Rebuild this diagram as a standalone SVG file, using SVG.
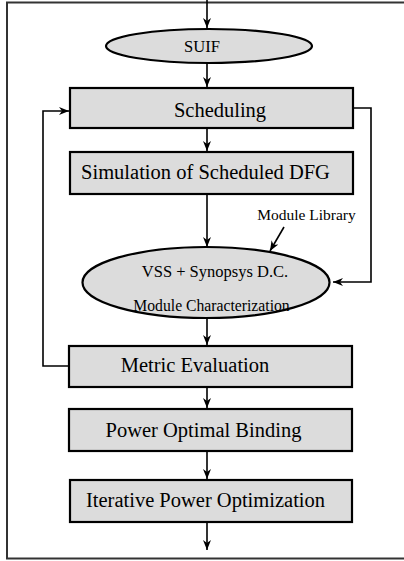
<svg xmlns="http://www.w3.org/2000/svg" width="404" height="561" viewBox="0 0 404 561">
<style>
.box{fill:#dcdcdc;stroke:#000;stroke-width:2.2}
.t{font-family:"Liberation Serif","Times New Roman",serif;fill:#000;text-anchor:middle}
.c{fill:none;stroke:#000;stroke-width:1.6}
.a{marker-end:url(#ah)}
</style>
<defs>
<marker id="ah" viewBox="0 0 10 8" refX="10" refY="4" markerWidth="10" markerHeight="8" markerUnits="userSpaceOnUse" orient="auto">
<path d="M0,0 L10,4 L0,8 L3,4 z" fill="#000"/>
</marker>
</defs>
<rect x="7" y="2.5" width="420" height="556" fill="none" stroke="#333" stroke-width="2"/>
<g id="connectors">
<line class="c a" x1="207" y1="0" x2="207" y2="28"/>
<line class="c a" x1="207" y1="63" x2="207" y2="87"/>
<line class="c a" x1="207" y1="128" x2="207" y2="151"/>
<line class="c a" x1="207" y1="194" x2="207" y2="247"/>
<line class="c a" x1="207" y1="318" x2="207" y2="345"/>
<line class="c a" x1="207" y1="387" x2="207" y2="408"/>
<line class="c a" x1="207" y1="451" x2="207" y2="479"/>
<line class="c a" x1="207" y1="522" x2="207" y2="550"/>
<polyline class="c a" points="69,366 43,366 43,111 69,111"/>
<polyline class="c a" points="353,108 371,108 371,282 333,282"/>
<line class="c a" x1="284" y1="227" x2="270" y2="251"/>
</g>
<g id="suif">
<ellipse class="box" cx="209" cy="46" rx="103" ry="17"/>
<text class="t" x="202" y="52" font-size="16.5">SUIF</text>
</g>
<g id="scheduling">
<rect class="box" x="70" y="88" width="283" height="40"/>
<text class="t" x="220" y="117" font-size="20.5">Scheduling</text>
</g>
<g id="simulation">
<rect class="box" x="70" y="152" width="283" height="42"/>
<text class="t" x="205.5" y="179" font-size="20.5">Simulation of Scheduled DFG</text>
</g>
<g id="module-library">
<text class="t" x="306.5" y="220" font-size="15.5">Module Library</text>
</g>
<g id="vss">
<ellipse class="box" cx="206" cy="282.5" rx="123.5" ry="35.5"/>
<text class="t" x="215" y="277" font-size="16.5">VSS + Synopsys D.C.</text>
<text class="t" x="211.5" y="311" font-size="15.7">Module Characterization</text>
</g>
<g id="metric">
<rect class="box" x="69" y="346" width="283" height="41"/>
<text class="t" x="195" y="372" font-size="20.5">Metric Evaluation</text>
</g>
<g id="binding">
<rect class="box" x="69" y="409" width="283" height="42"/>
<text class="t" x="203.5" y="437" font-size="20.5">Power Optimal Binding</text>
</g>
<g id="iterative">
<rect class="box" x="70" y="480" width="282" height="42"/>
<text class="t" x="205.5" y="507" font-size="20.5">Iterative Power Optimization</text>
</g>
</svg>
